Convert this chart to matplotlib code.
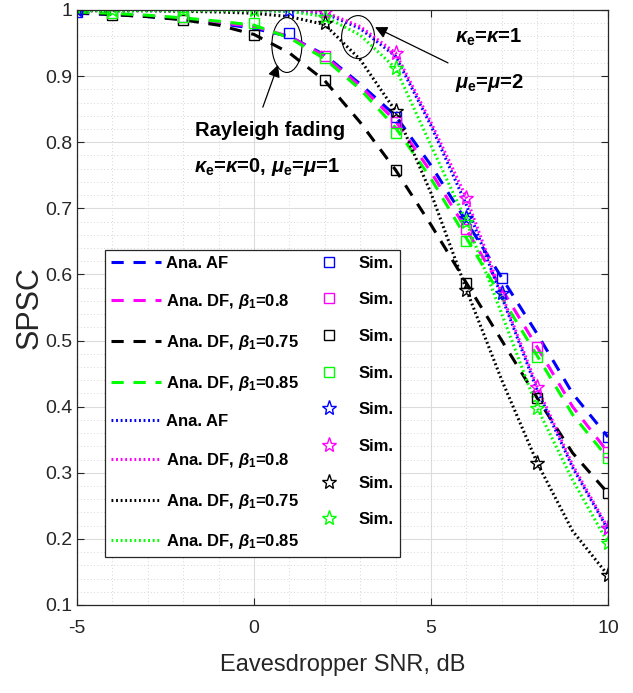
import numpy as np
import matplotlib
matplotlib.use('Agg')
import matplotlib.pyplot as plt
from matplotlib.patches import Ellipse
from matplotlib.ticker import MultipleLocator, FormatStrFormatter

plt.rcParams['font.family'] = ['Liberation Sans', 'DejaVu Sans']
plt.rcParams['axes.unicode_minus'] = False
plt.rcParams['mathtext.fontset'] = 'custom'
plt.rcParams['mathtext.rm'] = 'Liberation Sans:bold'
plt.rcParams['mathtext.it'] = 'Liberation Sans:italic:bold'
plt.rcParams['mathtext.bf'] = 'Liberation Sans:bold'

# SNR grid for analytical curves
snr = [-5, -4, -3, -2, -1, 0, 1, 2, 3, 4, 5, 6, 7, 8, 9, 10]

# Rayleigh fading (dashed)
ray_af   = [0.995, 0.993, 0.990, 0.986, 0.980, 0.972, 0.960, 0.932, 0.888, 0.840, 0.765, 0.680, 0.595, 0.510, 0.420, 0.354]
ray_df80 = [0.996, 0.994, 0.991, 0.987, 0.981, 0.975, 0.960, 0.930, 0.885, 0.832, 0.755, 0.668, 0.578, 0.490, 0.400, 0.331]
ray_df75 = [0.996, 0.993, 0.990, 0.985, 0.977, 0.963, 0.935, 0.893, 0.830, 0.758, 0.675, 0.587, 0.500, 0.413, 0.330, 0.269]
ray_df85 = [0.997, 0.995, 0.992, 0.988, 0.983, 0.977, 0.958, 0.926, 0.880, 0.822, 0.745, 0.655, 0.565, 0.477, 0.388, 0.322]

# kappa=1, mu=2 (dotted)
km_af   = [0.999, 0.999, 0.999, 0.999, 0.999, 0.999, 0.998, 0.995, 0.972, 0.930, 0.825, 0.705, 0.566, 0.425, 0.308, 0.214]
km_df80 = [0.999, 0.999, 0.999, 0.999, 0.999, 0.999, 0.999, 0.997, 0.975, 0.935, 0.830, 0.716, 0.570, 0.430, 0.312, 0.216]
km_df75 = [0.999, 0.999, 0.999, 0.998, 0.997, 0.995, 0.990, 0.978, 0.925, 0.847, 0.723, 0.577, 0.440, 0.315, 0.212, 0.145]
km_df85 = [0.999, 0.999, 0.999, 0.999, 0.999, 0.999, 0.998, 0.990, 0.962, 0.912, 0.795, 0.680, 0.540, 0.398, 0.289, 0.194]

# simulation points (squares: Rayleigh, stars: kappa=1, mu=2)
sq_af_x, sq_af_y = [-5, 1, 4, 7, 10], [0.997, 0.965, 0.838, 0.595, 0.354]
sq_df80_x, sq_df80_y = [-2, 2, 4, 6, 8, 10], [0.990, 0.930, 0.830, 0.668, 0.490, 0.331]
sq_df75_x, sq_df75_y = [-4, -2, 0, 2, 4, 6, 8, 10], [0.993, 0.985, 0.962, 0.894, 0.758, 0.587, 0.413, 0.269]
sq_df85_x, sq_df85_y = [-4, -2, 0, 2, 4, 6, 8, 10], [0.995, 0.990, 0.980, 0.928, 0.814, 0.650, 0.475, 0.322]

st_af_x, st_af_y = [-5, 1, 6, 7, 10], [1.0, 1.0, 0.685, 0.572, 0.216]
st_df80_x, st_df80_y = [2, 4, 6, 8, 10], [0.997, 0.935, 0.716, 0.430, 0.216]
st_df75_x, st_df75_y = [2, 4, 6, 8, 10], [0.980, 0.847, 0.577, 0.315, 0.145]
st_df85_x, st_df85_y = [-4, -2, 0, 2, 4, 6, 8, 10], [1.0, 1.0, 1.0, 0.990, 0.912, 0.680, 0.398, 0.194]

colors = ['#0000ff', '#ff00ff', '#000000', '#00ff00']
labels = ['Ana. AF', r'Ana. DF, $\beta_1$=0.8', r'Ana. DF, $\beta_1$=0.75', r'Ana. DF, $\beta_1$=0.85']

fig = plt.figure(figsize=(6.33, 6.93), dpi=100)
ax = fig.add_axes([0.1216, 0.127, 0.8389, 0.8586])

dash_lines = []
dot_lines = []
for y, c in zip([ray_af, ray_df80, ray_df75, ray_df85], colors):
    l, = ax.plot(snr, y, color=c, lw=2.2, linestyle=(0, (4, 3.2)))
    dash_lines.append(l)
for y, c in zip([km_af, km_df80, km_df75, km_df85], colors):
    l, = ax.plot(snr, y, color=c, lw=2.2, linestyle=(0, (0.6, 0.9)))
    dot_lines.append(l)

sq_sets = [(sq_af_x, sq_af_y), (sq_df80_x, sq_df80_y), (sq_df75_x, sq_df75_y), (sq_df85_x, sq_df85_y)]
st_sets = [(st_af_x, st_af_y), (st_df80_x, st_df80_y), (st_df75_x, st_df75_y), (st_df85_x, st_df85_y)]
sq_handles = []
st_handles = []
for (xs, ys), c in zip(sq_sets, colors):
    h, = ax.plot(xs, ys, linestyle='none', marker='s', ms=7, mfc='none', mec=c, mew=1.0)
    sq_handles.append(h)
for (xs, ys), c in zip(st_sets, colors):
    h, = ax.plot(xs, ys, linestyle='none', marker='*', ms=11, mfc='none', mec=c, mew=1.0)
    st_handles.append(h)

ax.set_xlim(-5, 10)
ax.set_ylim(0.1, 1.0)
ax.xaxis.set_major_locator(MultipleLocator(5))
ax.xaxis.set_minor_locator(MultipleLocator(1))
ax.yaxis.set_major_locator(MultipleLocator(0.1))
ax.yaxis.set_minor_locator(MultipleLocator(0.02))
ax.yaxis.set_major_formatter(FormatStrFormatter('%g'))
ax.grid(which='major', color='#dcdcdc', lw=0.8, linestyle='-')
ax.grid(which='minor', color='#c8c8c8', lw=0.6, linestyle=(0, (1, 3)))
ax.set_axisbelow(True)
ax.tick_params(which='both', direction='in', top=True, right=True, colors='#262626', labelsize=14)
ax.tick_params(which='minor', length=0)
ax.tick_params(which='major', length=5)
ax.tick_params(axis='x', pad=11)
for s in ax.spines.values():
    s.set_color('#262626')
    s.set_linewidth(0.9)

ax.set_xlabel('Eavesdropper SNR, dB', fontsize=17, color='#262626', labelpad=12)
ax.set_ylabel('SPSC', fontsize=22, color='#262626', labelpad=0)

# legend: analytical lines in first column, simulation markers in second
handles = dash_lines + dot_lines + sq_handles + st_handles
leg_labels = labels + labels + ['Sim.'] * 8
leg = ax.legend(handles, leg_labels, ncol=2, loc='upper left', bbox_to_anchor=(0.053, 0.597),
                prop={'weight': 'bold', 'size': 12}, handlelength=3.0, handletextpad=0.3,
                columnspacing=0.3, labelspacing=1.3, borderpad=0.35, borderaxespad=0,
                fancybox=False, framealpha=1)
leg.get_frame().set_edgecolor('#262626')
leg.get_frame().set_linewidth(0.9)

# annotations
ax.add_patch(Ellipse((0.93, 0.947), 0.85, 0.083, fill=False, ec='k', lw=0.8))
ax.add_patch(Ellipse((2.94, 0.959), 0.93, 0.065, fill=False, ec='k', lw=0.8))
ax.annotate('', xy=(0.68, 0.917), xytext=(0.25, 0.853),
            arrowprops=dict(arrowstyle='-|>', color='k', lw=0.9, mutation_scale=18, shrinkA=0, shrinkB=0))
ax.annotate('', xy=(3.42, 0.974), xytext=(5.48, 0.92),
            arrowprops=dict(arrowstyle='-|>', color='k', lw=0.9, mutation_scale=18, shrinkA=0, shrinkB=0))
ax.text(0.45, 0.818, 'Rayleigh fading', fontsize=14.5, fontweight='bold', ha='center', va='center')
ax.text(0.37, 0.762, r'$\kappa_\mathrm{e}$=$\kappa$=0, $\mu_\mathrm{e}$=$\mu$=1', fontsize=14.5,
        fontweight='bold', ha='center', va='center')
ax.text(5.68, 0.958, r'$\kappa_\mathrm{e}$=$\kappa$=1', fontsize=14.5, fontweight='bold', ha='left', va='center')
ax.text(5.68, 0.89, r'$\mu_\mathrm{e}$=$\mu$=2', fontsize=14.5, fontweight='bold', ha='left', va='center')

plt.savefig('out.png', dpi=100)
